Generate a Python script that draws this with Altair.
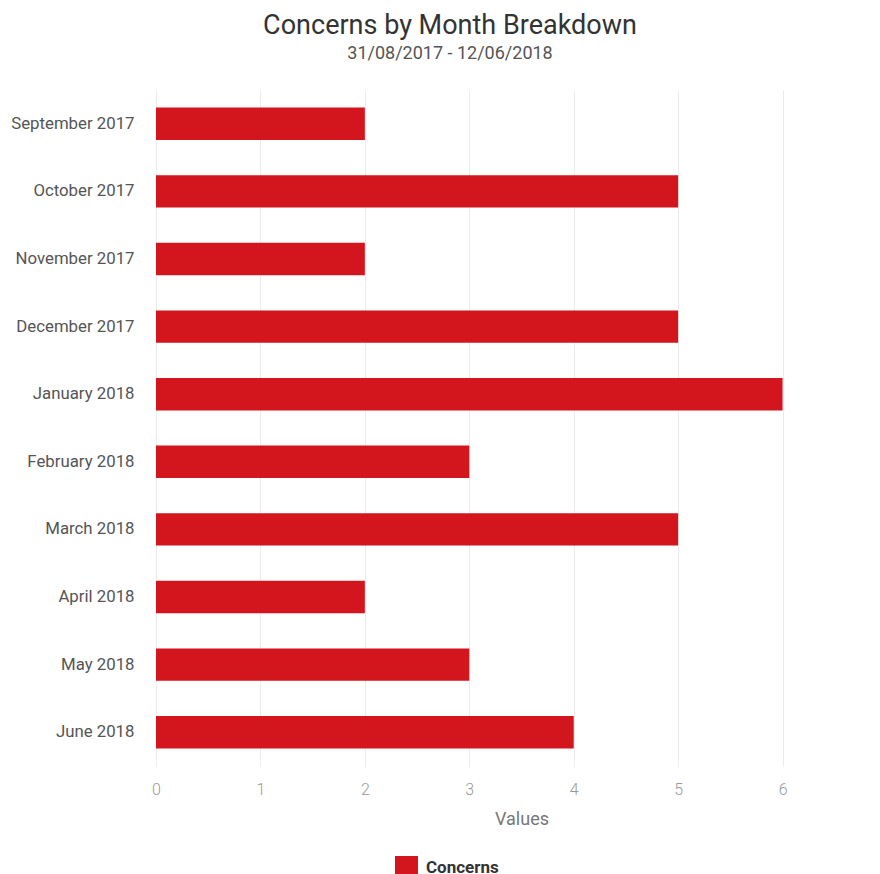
import altair as alt
import pandas as pd

months = ["September 2017", "October 2017", "November 2017", "December 2017",
          "January 2018", "February 2018", "March 2018", "April 2018",
          "May 2018", "June 2018"]
values = [2, 5, 2, 5, 6, 3, 5, 2, 3, 4]
series = ["Concerns"] * len(months)
x_ticks = [0, 1, 2, 3, 4, 5, 6, 7]

df = pd.DataFrame({"month": months, "value": values, "series": series})

chart = alt.Chart(df).mark_bar().encode(
    y=alt.Y("month:N", sort=months,
            scale=alt.Scale(paddingInner=0.52, paddingOuter=0.26),
            axis=alt.Axis(title=None, domain=False, ticks=False, grid=False,
                          labelFont="Roboto", labelFontSize=16.8, labelColor="#555555",
                          labelPadding=22)),
    x=alt.X("value:Q",
            scale=alt.Scale(domain=[0, 7], range=[0, 731], nice=False),
            axis=alt.Axis(values=x_ticks, title="Values", grid=True, gridColor="#ebebeb",
                          domain=False, ticks=False, labelFont="Roboto", labelFontSize=16,
                          labelFontWeight=300, labelColor="#999999", labelPadding=15,
                          labelFlush=False,
                          titleFont="Roboto", titleFontSize=18, titleFontWeight="normal",
                          titleColor="#777777", titlePadding=13)),
    color=alt.Color("series:N", scale=alt.Scale(range=["#d3151d"]),
                    legend=alt.Legend(title=None, orient="none", legendX=239, legendY=766,
                                      symbolType="square", symbolSize=529,
                                      symbolStrokeWidth=0, symbolOpacity=1,
                                      labelFont="Roboto", labelFontSize=17,
                                      labelFontWeight="bold", labelColor="#333333",
                                      padding=0, labelOffset=8))
).properties(
    width=716,
    height=676,
    autosize=alt.AutoSizeParams(type="none"),
    padding={"left": 148, "top": 82, "right": 0, "bottom": 108},
    title=alt.TitleParams(text="Concerns by Month Breakdown",
                          subtitle="31/08/2017 - 12/06/2018",
                          font="Roboto", fontSize=27, fontWeight="normal", color="#333333",
                          subtitleFont="Roboto", subtitleFontSize=18, subtitleColor="#555555",
                          anchor="middle", frame="group", dx=-64, offset=26,
                          subtitlePadding=5)
).configure_view(stroke=None)

chart.save("out.html", embed_options={"renderer": "svg", "actions": False})
